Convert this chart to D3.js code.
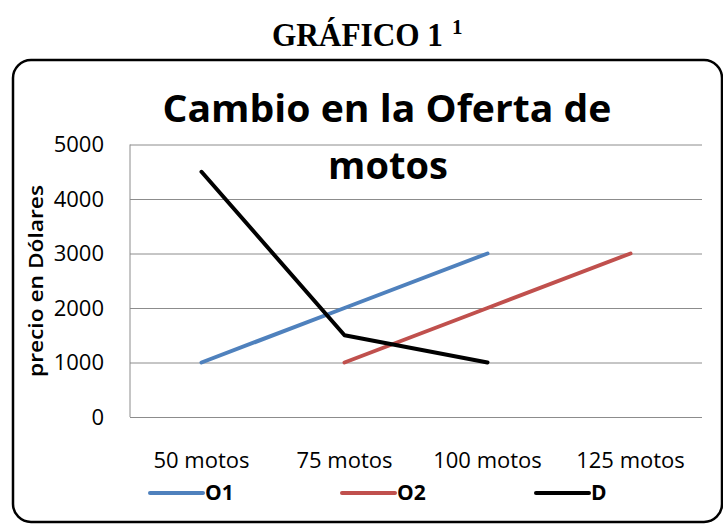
<!DOCTYPE html>
<html>
<head>
<meta charset="utf-8">
<script src="https://cdn.jsdelivr.net/npm/d3@7"></script>
<style>
  body { margin: 0; background: #fff; }
  svg { display: block; }
  .grid line { stroke: #8c8c8c; stroke-width: 1; }
  .tick text { fill: #000; }
</style>
</head>
<body>
<div id="chart"></div>
<script>
// chart values
const categories = ["50 motos", "75 motos", "100 motos", "125 motos"];
const yTicks = [0, 1000, 2000, 3000, 4000, 5000];
const seriesNames = ["O1", "O2", "D"];
const seriesColors = ["#4f81bd", "#c0504d", "#000000"];
const o1 = [1000, 2000, 3000, null];
const o2 = [null, 1000, 2000, 3000];
const dem = [4500, 1500, 1000, null];

const W = 723, H = 524;
const plot = { left: 130, right: 702, top: 144.5, bottom: 417 };
const font = "'Open Sans', sans-serif";
const serif = "'Liberation Serif', 'Times New Roman', serif";

const svg = d3.select("#chart").append("svg")
    .attr("width", W)
    .attr("height", H);

// outer frame
svg.append("rect")
    .attr("x", 13)
    .attr("y", 60)
    .attr("width", 709)
    .attr("height", 462)
    .attr("rx", 18)
    .attr("fill", "none")
    .attr("stroke", "#000")
    .attr("stroke-width", 2.5);

// document title above the frame
svg.append("text")
    .attr("x", 272)
    .attr("y", 46)
    .attr("textLength", 171)
    .attr("lengthAdjust", "spacingAndGlyphs")
    .style("font-family", serif)
    .style("font-weight", "bold")
    .style("font-size", "33px")
    .text("GRÁFICO 1");
svg.append("text")
    .attr("x", 452)
    .attr("y", 34)
    .style("font-family", serif)
    .style("font-weight", "bold")
    .style("font-size", "21px")
    .text("1");

var x = d3.scaleBand().domain(categories).range([plot.left, plot.right]);
var y = d3.scaleLinear().domain([0, 5000]).range([plot.bottom, plot.top]);

// gridlines + y labels
var yAxis = svg.append("g")
    .attr("class", "grid")
    .attr("transform", `translate(${plot.left},0)`)
    .call(d3.axisLeft(y).tickValues(yTicks).tickSize(-(plot.right - plot.left)).tickPadding(26).tickFormat(d3.format("d")));
yAxis.select(".domain").remove();
yAxis.selectAll("text")
    .style("font-family", font)
    .style("font-size", "22px");

// left axis line
svg.append("line")
    .attr("x1", plot.left).attr("x2", plot.left)
    .attr("y1", plot.top).attr("y2", plot.bottom)
    .attr("stroke", "#8c8c8c");

// x labels
var xAxis = svg.append("g")
    .attr("transform", `translate(0,${plot.bottom})`)
    .call(d3.axisBottom(x).tickSize(0).tickPadding(35));
xAxis.select(".domain").remove();
xAxis.selectAll("text")
    .style("font-family", font)
    .style("font-size", "22px");

// y axis title
svg.append("text")
    .attr("transform", `translate(43,281) rotate(-90)`)
    .attr("text-anchor", "middle")
    .attr("textLength", 192)
    .attr("lengthAdjust", "spacingAndGlyphs")
    .style("font-family", font)
    .style("font-weight", "600")
    .style("font-size", "19px")
    .text("precio en Dólares");

// series lines
const allSeries = [o1, o2, dem];
const line = d3.line()
    .defined(d => d.v != null)
    .x(d => x(d.c) + x.bandwidth() / 2)
    .y(d => y(d.v));

allSeries.forEach((vals, i) => {
  svg.append("path")
      .datum(categories.map((c, j) => ({ c: c, v: vals[j] })))
      .attr("fill", "none")
      .attr("stroke", seriesColors[i])
      .attr("stroke-width", 4)
      .attr("stroke-linecap", "round")
      .attr("stroke-linejoin", "round")
      .attr("d", line);
});

// chart title (drawn over the plot, like the original)
const title = svg.append("text")
    .attr("text-anchor", "middle")
    .style("font-family", font)
    .style("font-weight", "bold")
    .style("font-size", "38px");
title.append("tspan").attr("x", 387).attr("y", 122)
    .attr("textLength", 449).attr("lengthAdjust", "spacingAndGlyphs")
    .text("Cambio en la Oferta de");
title.append("tspan").attr("x", 388).attr("y", 179).text("motos");

// legend
const legendX = [150, 342, 536];
const legend = svg.selectAll(".legend")
    .data(seriesNames)
    .enter().append("g")
    .attr("class", "legend")
    .attr("transform", (d, i) => `translate(${legendX[i]},493)`);

legend.append("line")
    .attr("x1", 0).attr("x2", 53)
    .attr("stroke", (d, i) => seriesColors[i])
    .attr("stroke-width", 4)
    .attr("stroke-linecap", "round");

legend.append("text")
    .attr("x", 55)
    .attr("dy", "0.35em")
    .style("font-family", font)
    .style("font-weight", "bold")
    .style("font-size", "21px")
    .text(d => d);
</script>
</body>
</html>
